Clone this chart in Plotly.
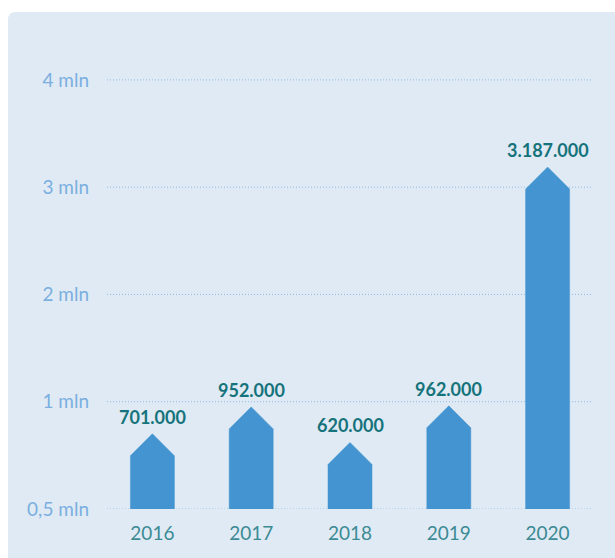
import plotly.graph_objects as go

years = ["2016", "2017", "2018", "2019", "2020"]
values = [0.701, 0.952, 0.620, 0.962, 3.187]  # million
value_labels = ["701.000", "952.000", "620.000", "962.000", "3.187.000"]
tick_vals = [0, 1, 2, 3, 4]
tick_text = ["0,5 mln", "1 mln", "2 mln", "3 mln", "4 mln"]

W, H = 615, 558
ML, MR, MT, MB = 103, 18, 37, 49
PW, PH = W - ML - MR, H - MT - MB
YMAX = 4.4
px_x = PW / 5.0
px_y = PH / YMAX

bar_color = "#4394d1"
label_color = "#15737b"
panel_color = "#e0eaf4"

half_px = 22
hw = half_px / px_x
roof = half_px / px_y

fig = go.Figure()
for i, v in enumerate(values):
    fig.add_trace(go.Scatter(
        x=[i - hw, i - hw, i, i + hw, i + hw, i - hw],
        y=[0, v - roof, v, v - roof, 0, 0],
        mode="lines", fill="toself", fillcolor=bar_color,
        line=dict(color=bar_color, width=0.5),
        hoverinfo="skip", showlegend=False,
    ))
    fig.add_annotation(x=i, y=v, text=f"<b>{value_labels[i]}</b>", showarrow=False,
                       yanchor="middle", yshift=17,
                       font=dict(family="Lato", size=18, color=label_color))

def px2paper_x(p):
    return (p - ML) / PW

def px2paper_y(p):
    return (H - MB - p) / PH

# background panel with rounded top-left corner
x0, y0, x1, y1 = px2paper_x(8), px2paper_y(12), px2paper_x(W + 2), px2paper_y(H + 2)
r = 8
rx, ry = r / PW, r / PH
path = (f"M {x0},{y1} L {x0},{y0 - ry} Q {x0},{y0} {x0 + rx},{y0} "
        f"L {x1},{y0} L {x1},{y1} Z")
fig.add_shape(type="path", path=path, xref="paper", yref="paper",
              fillcolor=panel_color, line=dict(width=0), layer="below")

# dotted gridlines
for tv in tick_vals:
    fig.add_shape(type="line", xref="paper", yref="y",
                  x0=px2paper_x(107), x1=px2paper_x(592), y0=tv, y1=tv,
                  line=dict(color="#8dbbe6", width=1, dash="1px,2px"), layer="below")

fig.update_layout(
    width=W, height=H,
    margin=dict(l=ML, r=MR, t=MT, b=MB, pad=0),
    paper_bgcolor="white", plot_bgcolor="rgba(0,0,0,0)",
    xaxis=dict(range=[-0.5, 4.5], tickvals=list(range(5)), ticktext=years,
               showgrid=False, zeroline=False, showline=False, ticks="",
               ticklabelstandoff=11,
               tickfont=dict(family="Lato", size=19, color="#3b8a94"), fixedrange=True),
    yaxis=dict(range=[0, YMAX], tickvals=tick_vals, ticktext=tick_text,
               showgrid=False, zeroline=False, showline=False, ticks="",
               ticklabelstandoff=13,
               tickfont=dict(family="Lato", size=19, color="#7aafe0"), fixedrange=True),
)

fig.write_html("out.html")
